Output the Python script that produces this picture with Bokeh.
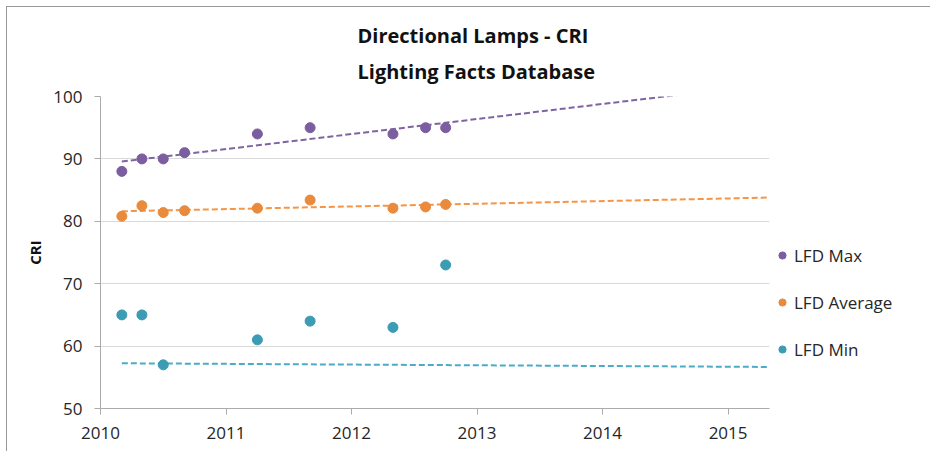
import numpy as np
from bokeh.plotting import figure
from bokeh.models import Range1d, FixedTicker, Legend, LegendItem, Title
from bokeh.embed import file_html
from bokeh.resources import INLINE

# ---- data ----
dates = [2010.17, 2010.33, 2010.50, 2010.67, 2011.25, 2011.67, 2012.33, 2012.59, 2012.75]
lfd_max = [88, 90, 90, 91, 94, 95, 94, 95, 95]
lfd_avg = [80.8, 82.5, 81.4, 81.7, 82.1, 83.4, 82.1, 82.3, 82.7]
lfd_min = [65, 65, 57, 33, 61, 64, 63, 33, 73]   # two values fall below the visible axis
series_names = ["LFD Max", "LFD Average", "LFD Min"]
x_ticks = [2010, 2011, 2012, 2013, 2014, 2015]
y_ticks = [50, 60, 70, 80, 90, 100]
trend_end = 2015.33
title_lines = ["Directional Lamps - CRI", "Lighting Facts Database"]
y_label = "CRI"

# ---- styles ----
dot_colors = ["#7B5E9F", "#E98A3D", "#3B9CB3"]
line_colors = ["#8064A2", "#F59545", "#4BACC6"]
FONT = "Open Sans"
TXT = "#262626"

FW, FH = 669, 312
ML, MR, MT, MB = 93, 156, 89, 43
X0, X1 = 2010, trend_end
Y0, Y1 = 50, 100

p = figure(frame_width=FW, frame_height=FH, x_range=Range1d(X0, X1), y_range=Range1d(Y0, Y1),
           output_backend="svg", toolbar_location=None,
           min_border_left=ML, min_border_right=MR, min_border_top=MT, min_border_bottom=MB)
p.styles = {"margin-top": "6px", "margin-left": "6px",
            "border-top": "1px solid #9a9a9a", "border-left": "1px solid #9a9a9a"}
p.outline_line_color = None
p.background_fill_color = "white"
p.border_fill_color = "white"

# grid & axes
p.xgrid.visible = False
p.ygrid.ticker = FixedTicker(ticks=y_ticks)
p.ygrid.grid_line_color = "#D9D9D9"
p.ygrid.grid_line_width = 1

for ax in (p.xaxis[0], p.yaxis[0]):
    ax.axis_line_color = "#ABABAB"
    ax.major_tick_line_color = "#ABABAB"
    ax.minor_tick_line_color = None
    ax.major_tick_in = 0
    ax.major_tick_out = 6
    ax.major_label_text_font = FONT
    ax.major_label_text_font_size = "17px"
    ax.major_label_text_color = TXT

p.xaxis.ticker = FixedTicker(ticks=x_ticks)
p.yaxis.ticker = FixedTicker(ticks=y_ticks)
p.xaxis.major_label_standoff = 12
p.yaxis.major_label_standoff = 12
p.yaxis.axis_label = y_label
p.yaxis.axis_label_text_font = FONT
p.yaxis.axis_label_text_font_style = "bold"
p.yaxis.axis_label_text_font_size = "15px"
p.yaxis.axis_label_text_color = "#111111"
p.yaxis.axis_label_standoff = 5

# series + trendlines
items = []
for vals, lc in zip([lfd_max, lfd_avg, lfd_min], line_colors):
    coef = np.polyfit(dates, vals, 1)
    xs = np.array([dates[0], trend_end])
    p.line(xs, np.polyval(coef, xs), line_color=lc, line_width=2, line_dash="6 3")
for name, vals, dc in zip(series_names, [lfd_max, lfd_avg, lfd_min], dot_colors):
    r = p.scatter(dates, vals, marker="circle", size=10, fill_color=dc, line_color=dc)
    items.append(LegendItem(label=name, renderers=[r]))

legend = Legend(items=items, location=(4, 47), orientation="vertical",
                glyph_width=18, glyph_height=24, label_height=24, spacing=23,
                padding=0, margin=0, label_standoff=3,
                border_line_alpha=0, background_fill_alpha=0,
                label_text_font=FONT, label_text_font_size="17px", label_text_color=TXT)
p.add_layout(legend, "right")

# two-line title
p.add_layout(Title(text="\n".join(title_lines), align="left", offset=257, standoff=22,
                   text_font=FONT, text_font_style="bold", text_font_size="20px",
                   text_line_height=1.35, text_color="#111111"), "above")

open("out.html", "w").write(file_html(p, INLINE))
